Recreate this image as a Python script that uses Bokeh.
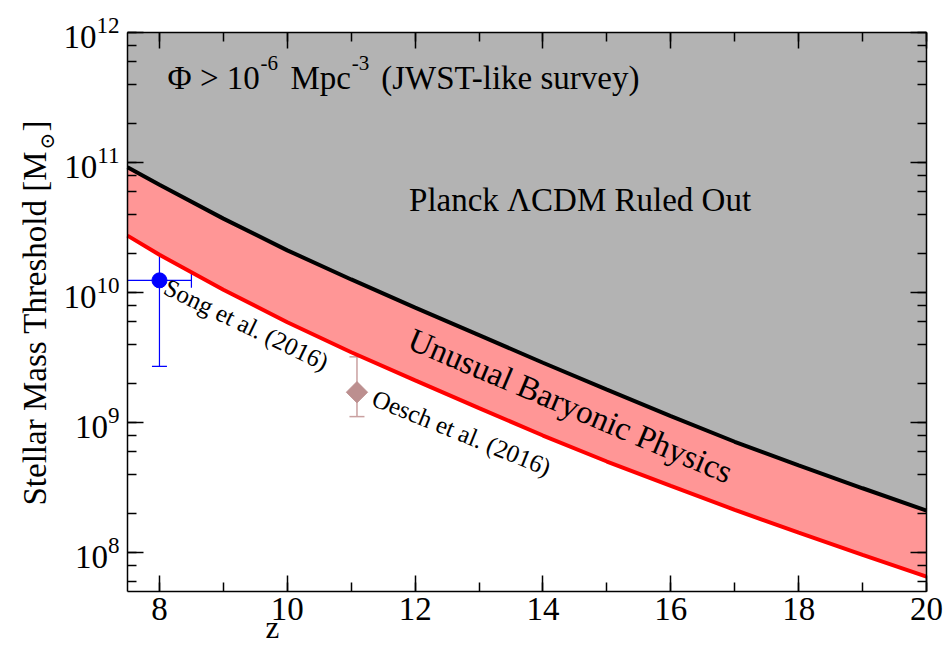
import math
from bokeh.plotting import figure
from bokeh.models import (Range1d, LinearAxis, LogAxis, LogTicker, SingleIntervalTicker,
                          Label, Whisker, TeeHead, ColumnDataSource, CustomJSTickFormatter)
from bokeh.embed import file_html
from bokeh.resources import INLINE

# Redshift grid and stellar-mass thresholds [M_sun]
z = [7.5, 8, 9, 10, 11, 12, 13, 14, 15, 16, 17, 18, 19, 20]
planck_limit = [9.2e10, 6.75e10, 3.7e10, 2.11e10, 1.26e10, 7.65e9, 4.7e9, 2.88e9,
                1.79e9, 1.12e9, 7.11e8, 4.67e8, 3.12e8, 2.1e8]
baryonic_limit = [2.74e10, 1.95e10, 1.05e10, 5.9e9, 3.47e9, 2.11e9, 1.29e9, 7.94e8,
                  5.01e8, 3.25e8, 2.13e8, 1.42e8, 9.6e7, 6.53e7]

# Observations
song_z, song_m, song_lo, song_hi, song_zlo, song_zhi = [8.0], [1.24e10], [2.7e9], [3.87e10], [7.5], [8.5]
oesch_z, oesch_m, oesch_lo, oesch_hi = [11.09], [1.71e9], [1.11e9], [3.2e9]

# Plotted window
Z_MIN, Z_MAX = 7.5, 20.0
M_MIN, M_MAX = 10 ** 7.7, 1e12
ceiling = [M_MAX] * len(z)

SERIF = "Liberation Serif"
W, H = 944, 645
BOX_L, BOX_R, BOX_T, BOX_B = 127, 926, 32, 591   # data box inside the canvas, px

# The frame fills the whole canvas; axes sit at fixed data locations so the
# titles around the box can be drawn as ordinary labels.
px_per_z = (BOX_R - BOX_L) / (Z_MAX - Z_MIN)
px_per_dex = (BOX_B - BOX_T) / (math.log10(M_MAX) - math.log10(M_MIN))
x_lo = Z_MIN - BOX_L / px_per_z
x_hi = x_lo + W / px_per_z
y_hi = math.log10(M_MAX) + BOX_T / px_per_dex
y_lo = y_hi - H / px_per_dex

p = figure(width=W, height=H, x_range=Range1d(x_lo, x_hi), y_range=Range1d(10 ** y_lo, 10 ** y_hi),
           y_axis_type="log", x_axis_location=None, y_axis_location=None,
           output_backend="svg", toolbar_location=None,
           min_border_left=0, min_border_right=0, min_border_top=0, min_border_bottom=0)
p.outline_line_color = None
p.background_fill_color = "white"
p.border_fill_color = "white"
p.xgrid.visible = False
p.ygrid.visible = False

# Shaded regions
p.varea(x=z, y1=planck_limit, y2=ceiling, fill_color="#b3b3b3")
p.varea(x=z, y1=baryonic_limit, y2=planck_limit, fill_color="#ff9696")
p.line(z, planck_limit, line_color="black", line_width=4)
p.line(z, baryonic_limit, line_color="#ff0000", line_width=4)

# Song et al. point with error bars
song = ColumnDataSource(dict(x=song_z, y=song_m, lo=song_lo, hi=song_hi, xlo=song_zlo, xhi=song_zhi))
p.add_layout(Whisker(source=song, base="x", lower="lo", upper="hi", dimension="height",
                     line_color="#0000ff", line_width=1.2,
                     upper_head=TeeHead(size=15, line_color="#0000ff", line_width=1.2),
                     lower_head=TeeHead(size=15, line_color="#0000ff", line_width=1.2)))
p.add_layout(Whisker(source=song, base="y", lower="xlo", upper="xhi", dimension="width",
                     line_color="#0000ff", line_width=1.2, lower_head=None,
                     upper_head=TeeHead(size=15, line_color="#0000ff", line_width=1.2)))
p.scatter(song_z, song_m, marker="circle", size=15, fill_color="#0000ff", line_color="#0000ff")

# Oesch et al. point
oesch = ColumnDataSource(dict(x=oesch_z, y=oesch_m, lo=oesch_lo, hi=oesch_hi))
p.add_layout(Whisker(source=oesch, base="x", lower="lo", upper="hi", dimension="height",
                     line_color="#c9a0a0", line_width=1.5,
                     upper_head=TeeHead(size=15, line_color="#c9a0a0", line_width=1.5),
                     lower_head=TeeHead(size=15, line_color="#c9a0a0", line_width=1.5)))
p.scatter(oesch_z, oesch_m, marker="square", angle=math.pi / 4, size=15,
          fill_color="#bc8f8f", line_color="#bc8f8f")

# Axes: box edges with inward ticks on all four sides
def style_axis(ax, label_size="33px"):
    ax.major_tick_in = 16
    ax.major_tick_out = 0
    ax.minor_tick_in = 9
    ax.minor_tick_out = 0
    ax.axis_line_width = 1.5
    ax.major_tick_line_width = 1.5
    ax.minor_tick_line_width = 1.5
    ax.major_label_text_font = SERIF
    ax.major_label_text_font_size = label_size
    ax.major_label_text_color = "black"
    ax.axis_line_color = "black"

def z_ticker():
    return SingleIntervalTicker(interval=2, num_minor_ticks=2)

bottom_axis = LinearAxis(fixed_location=M_MIN, bounds=(Z_MIN, Z_MAX), ticker=z_ticker(),
                         major_label_standoff=6)
style_axis(bottom_axis)
p.add_layout(bottom_axis, "below")

left_axis = LogAxis(fixed_location=Z_MIN, bounds=(M_MIN, M_MAX), ticker=LogTicker(),
                    major_label_standoff=8)
style_axis(left_axis)
p.add_layout(left_axis, "left")

top_axis = LinearAxis(fixed_location=M_MAX, bounds=(Z_MIN, Z_MAX), ticker=z_ticker(),
                      formatter=CustomJSTickFormatter(code="return ''"))
style_axis(top_axis, "2px")
p.add_layout(top_axis, "above")

right_axis = LogAxis(fixed_location=Z_MAX, bounds=(M_MIN, M_MAX), ticker=LogTicker(),
                     formatter=CustomJSTickFormatter(code="return ''"))
style_axis(right_axis, "2px")
p.add_layout(right_axis, "right")

def add_label(text, x, y, size, units="data", angle=0.0, align="left", baseline="alphabetic",
              font=SERIF):
    p.add_layout(Label(x=x, y=y, x_units=units, y_units=units, text=text, angle=angle,
                       text_font=font, text_font_size=size, text_color="black",
                       text_align=align, text_baseline=baseline))

# Survey condition text with superscripts
add_label("\u03a6 > 10", 8.126, 4.43e11, "33px")
add_label("-6", 9.58, 5.78e11, "21px")
add_label("Mpc", 10.05, 4.43e11, "33px")
add_label("-3", 11.01, 5.78e11, "21px")
add_label("(JWST-like survey)", 11.47, 4.43e11, "33px")

add_label("Planck \u039bCDM Ruled Out", 14.58, 5.19e10, "33px", align="center")
add_label("Unusual Baryonic Physics", 12.03, 6.0e9, "33px", angle=-0.40, baseline="top")
add_label("Song et al. (2016)", 8.188, 1.40e10, "25px", angle=-0.45, baseline="top")
add_label("Oesch et al. (2016)", 11.427, 1.96e9, "25px", angle=-0.385, baseline="top")

# Axis titles, in canvas pixels (x from left, y from bottom)
add_label("Stellar Mass Threshold [M", 34, 140, "33px", units="screen", angle=math.pi / 2)
add_label("\u2299", 46, 496, "20px", units="screen", angle=math.pi / 2, font="DejaVu Serif")
add_label("]", 34, 514, "33px", units="screen", angle=math.pi / 2)
add_label("z", 265, 18, "31px", units="screen")

open("out.html", "w").write(file_html(p, INLINE))
